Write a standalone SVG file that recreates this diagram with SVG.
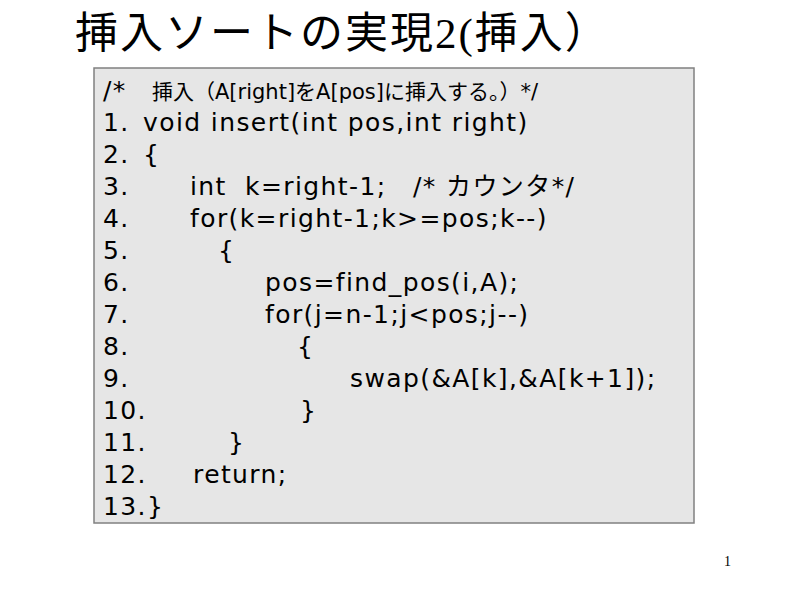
<svg xmlns="http://www.w3.org/2000/svg" width="800" height="600" viewBox="0 0 800 600">
<style>
.c{font-family:"DejaVu Sans","Noto Sans CJK JP",sans-serif;font-size:25px;letter-spacing:1.4px;fill:#000}
.t{font-family:"Noto Sans CJK JP",sans-serif;font-size:43px;letter-spacing:2px;fill:#000}
.s{font-family:"Liberation Serif",serif}
</style>
<rect width="800" height="600" fill="#fff"/>
<text class="t" x="75" y="48">挿入ソートの実現<tspan style="font-family:'Liberation Serif',serif">2(</tspan>挿入）</text>
<rect x="94" y="68" width="600" height="455" fill="#e6e6e6" stroke="#808080" stroke-width="1.5"/>
<g class="c">
<text x="103" y="99">/*</text><text x="152" y="99" font-size="21" letter-spacing="0">挿入（A[right]をA[pos]に挿入する。）*/</text>
<text x="103" y="131">1.</text><text x="143" y="131">void insert(int pos,int right)</text>
<text x="103" y="163">2.</text><text x="143" y="163">{</text>
<text x="103" y="195">3.</text><text x="190" y="195">int</text><text x="245" y="195">k=right-1;</text><text x="413" y="195">/* カウンタ*/</text>
<text x="103" y="227">4.</text><text x="190" y="227">for(k=right-1;k&gt;=pos;k--)</text>
<text x="103" y="259">5.</text><text x="218" y="259">{</text>
<text x="103" y="291">6.</text><text x="265" y="291">pos=find_pos(i,A);</text>
<text x="103" y="323">7.</text><text x="265" y="323">for(j=n-1;j&lt;pos;j--)</text>
<text x="103" y="355">8.</text><text x="297" y="355">{</text>
<text x="103" y="387">9.</text><text x="350" y="387">swap(&amp;A[k],&amp;A[k+1]);</text>
<text x="103" y="419">10.</text><text x="300" y="419">}</text>
<text x="103" y="451">11.</text><text x="228" y="451">}</text>
<text x="103" y="483">12.</text><text x="193" y="483">return;</text>
<text x="103" y="515">13.}</text>
</g>
<text x="724" y="566" class="s" font-size="14">1</text>
</svg>
